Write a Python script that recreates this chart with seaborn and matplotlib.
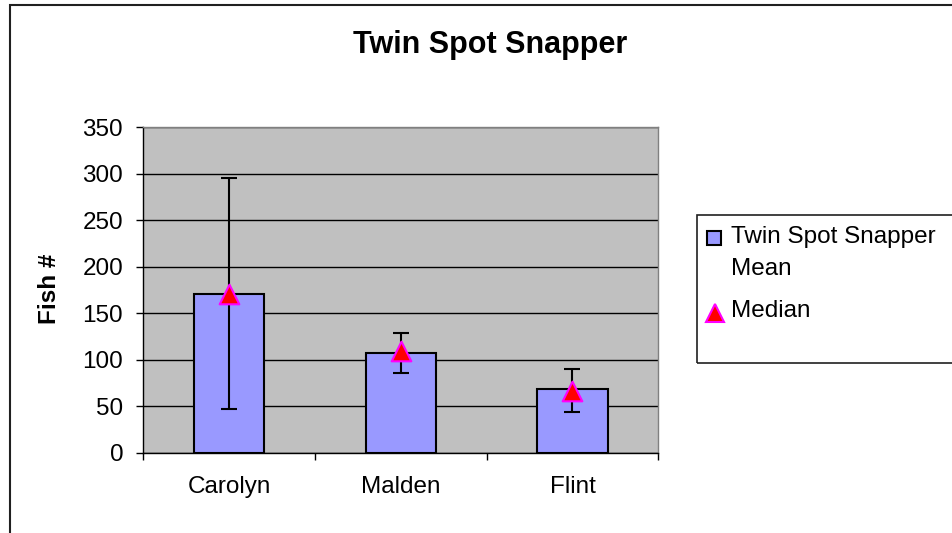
import matplotlib
matplotlib.use("Agg")
import matplotlib.pyplot as plt
import seaborn as sns
import numpy as np
from matplotlib.lines import Line2D
from matplotlib.patches import Rectangle
from matplotlib.ticker import FixedLocator

# ---- data ----
categories = ["Carolyn", "Malden", "Flint"]
means = [171, 107, 68]
err_low = [124, 21.5, 24]
err_high = [125, 21.5, 22]
medians = [171, 109, 66]
yticks = [0, 50, 100, 150, 200, 250, 300, 350]

sns.set_theme(style="white")
plt.rcParams["font.family"] = ["Liberation Sans", "DejaVu Sans"]
plt.rcParams["text.color"] = "black"
plt.rcParams["axes.labelcolor"] = "black"
plt.rcParams["xtick.color"] = "black"
plt.rcParams["ytick.color"] = "black"

W, H = 952, 533
fig = plt.figure(figsize=(W / 100, H / 100), dpi=100)
fig.patch.set_facecolor("white")

L, R, T, B = 143.3, 658.3, 127.3, 452.7
ax = fig.add_axes([L / W, 1 - B / H, (R - L) / W, (B - T) / H])
ax.set_facecolor("#C0C0C0")

sns.barplot(x=categories, y=means, color="#9999FF", saturation=1,
            edgecolor="black", linewidth=1.5, width=0.41, errorbar=None,
            ax=ax, zorder=3)
xpos = np.arange(len(categories))
ax.errorbar(xpos, means, yerr=[err_low, err_high], fmt="none",
            ecolor="black", elinewidth=1.5, capsize=5.5, capthick=1.5, zorder=4)
ax.scatter(xpos, medians, marker="^", s=200, facecolor="#FF0000",
           edgecolor="#FF00FF", linewidths=1.5, zorder=5)

ax.set_xlim(-0.5, 2.5)
ax.set_ylim(0, 350)
ax.set_yticks(yticks)
ax.yaxis.grid(True, color="black", linewidth=1, zorder=0)
ax.set_axisbelow(True)
ax.xaxis.set_minor_locator(FixedLocator([-0.5, 0.5, 1.5, 2.5]))
ax.tick_params(axis="x", which="major", length=0, pad=17, labelsize=17.5,
               colors="black")
ax.tick_params(axis="x", which="minor", length=5, width=1, direction="out",
               color="black", bottom=True)
ax.tick_params(axis="y", which="major", length=5, width=1, direction="out",
               pad=9.5, labelsize=17.5, colors="black", left=True)
ax.set_xlabel("")
ax.set_ylabel("")
for s in ["left", "bottom"]:
    ax.spines[s].set_color("black")
    ax.spines[s].set_linewidth(1)
for s in ["top", "right"]:
    ax.spines[s].set_color("#808080")
    ax.spines[s].set_linewidth(1)

# y label
fig.text(50 / W, 1 - 289 / H, "Fish #", rotation=90, fontsize=17.5,
         fontweight="bold", ha="center", va="center", color="black")
# title
fig.text(490 / W, 1 - 45 / H, "Twin Spot Snapper", fontsize=22,
         fontweight="bold", ha="center", va="center", color="black")

# outer chart border
fig.add_artist(Rectangle((9.7 / W, -0.1), 1.2, 1 - 5 / H + 0.1,
                         transform=fig.transFigure, fill=False,
                         edgecolor="#202020", linewidth=1.5))

# legend (drawn manually to match layout)
lx0, ly0, ly1 = 697.3, 215, 363.3
fig.add_artist(Rectangle((lx0 / W, 1 - ly1 / H), 1.0, (ly1 - ly0) / H,
                         transform=fig.transFigure, fill=False,
                         edgecolor="#202020", linewidth=1.2))
fig.add_artist(Line2D([714 / W], [1 - 238 / H], transform=fig.transFigure,
                      marker="s", markersize=10, markerfacecolor="#9999FF",
                      markeredgecolor="black", markeredgewidth=1.5,
                      linestyle="none"))
fig.add_artist(Line2D([715 / W], [1 - 313 / H], transform=fig.transFigure,
                      marker="^", markersize=13, markerfacecolor="#FF0000",
                      markeredgecolor="#FF00FF", markeredgewidth=1.5,
                      linestyle="none"))
fig.text(731 / W, 1 - 237 / H, "Twin Spot Snapper", fontsize=17.5,
         ha="left", va="center", color="black")
fig.text(731 / W, 1 - 269 / H, "Mean", fontsize=17.5, ha="left", va="center",
         color="black")
fig.text(731 / W, 1 - 311 / H, "Median", fontsize=17.5, ha="left",
         va="center", color="black")

fig.savefig("out.png", dpi=100, facecolor="white")
